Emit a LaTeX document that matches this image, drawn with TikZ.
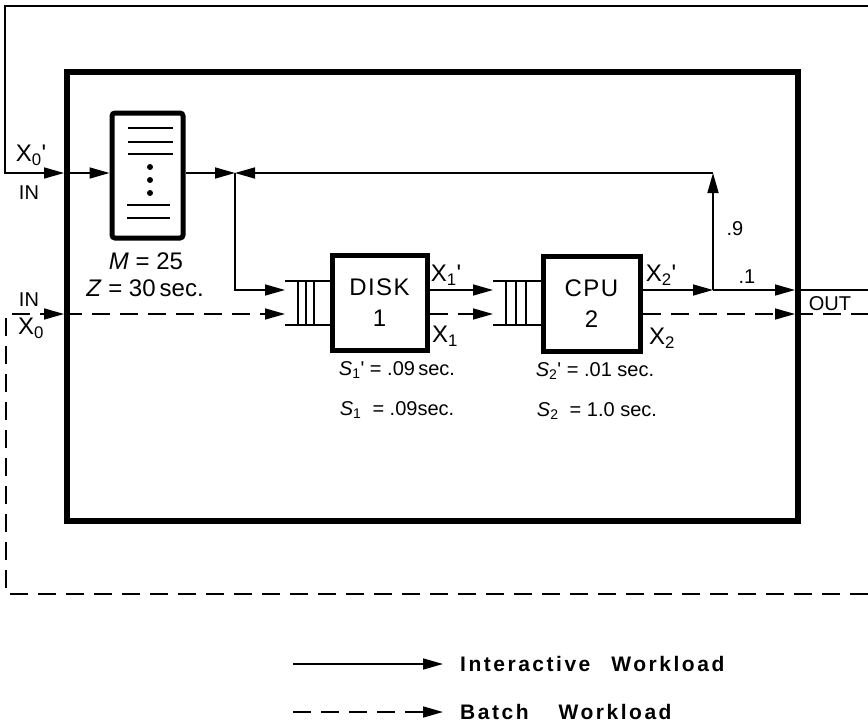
\documentclass[tikz,border=0pt]{standalone}
\usepackage{fontspec}
\setmainfont{Liberation Sans}
\usetikzlibrary{arrows.meta,calc}

\begin{document}
\begin{tikzpicture}[x=1pt,y=-1pt,
  line/.style={line width=1.6pt},
  flow/.style={line, -{Triangle[length=20pt,width=11pt]}},
  batch/.style={line, dash pattern=on 18pt off 10pt},
  batchflow/.style={batch, -{Triangle[length=20pt,width=11pt]}},
  server/.style={draw, line width=5pt, minimum width=95pt, minimum height=95pt, align=center, font=\fontsize{24}{31}\selectfont\addfontfeature{LetterSpace=6}},
  lbl/.style={font=\fontsize{20}{24}\selectfont, inner sep=0pt},
  big/.style={font=\fontsize{24}{26}\selectfont},
  legend/.style={font=\fontsize{21}{24}\selectfont\bfseries\addfontfeature{LetterSpace=12}, inner sep=0pt, anchor=west}]
  \useasboundingbox (0,0) rectangle (868,728);

  % the system box and its stations
  \node[draw, line width=6pt, minimum width=731pt, minimum height=449pt] (sys) at (432.5,296.5) {};
  \node[draw, line width=5pt, rounded corners=3pt, minimum width=71pt, minimum height=125pt] (term) at (147.5,175.5) {};
  \node[server] (disk) at (379.5,303) {DISK\\1};
  \node[server, minimum width=97pt] (cpu) at (591.5,303.5) {CPU\\2};

  % inside the terminals
  \draw[line] (128,128) -- (173,128);
  \draw[line] (128,142) -- (173,142);
  \draw[line] (128,154) -- (173,154);
  \fill (150,167) circle (3pt);
  \fill (150,180) circle (3pt);
  \fill (150,193) circle (3pt);
  \draw[line] (127,205) -- (170,205);
  \draw[line] (127,218) -- (170,218);

  % queues
  \draw[line] (285,281) -- (disk.west |- 0,281);
  \draw[line] (285,325) -- (disk.west |- 0,325);
  \draw[line] (298,281) -- (298,325);
  \draw[line] (306,281) -- (306,325);
  \draw[line] (314,281) -- (314,325);
  \draw[line] (493,281) -- (cpu.west |- 0,281);
  \draw[line] (493,325) -- (cpu.west |- 0,325);
  \draw[line] (506,281) -- (506,325);
  \draw[line] (516,281) -- (516,325);
  \draw[line] (526,281) -- (526,325);

  \coordinate (topR) at (868,6);
  \coordinate (topL) at (5,6);
  \coordinate (inI) at (5,173);
  \coordinate (split) at (235,173);
  \coordinate (up) at (713,173);
  \coordinate (fork) at (713,290);
  \coordinate (dqI) at (285,290);
  \coordinate (dqB) at (285,314);
  \coordinate (cqI) at (493,290);
  \coordinate (cqB) at (493,314);
  \coordinate (outI) at (795,290);
  \coordinate (outB) at (795,314);
  \coordinate (exitI) at (868,290);
  \coordinate (exitB) at (868,314);
  \coordinate (botR) at (868,594);
  \coordinate (botL) at (6,594);
  \coordinate (inB) at (6,314);

  % interactive workload
  \draw[flow] (topR) -- (topL) -- (inI) -- (inI -| sys.west);
  \draw[flow] (inI -| sys.west) -- (term.west |- inI);
  \draw[flow] (term.east |- inI) -- (split);
  \draw[flow] (up) -- (split);
  \draw[flow] (split) |- (dqI);
  \draw[flow] (disk.east |- dqI) -- (cqI);
  \draw[flow] (cpu.east |- dqI) -- (fork);
  \draw[flow] (fork) -- (up);
  \draw[flow] (fork) -- (outI);
  \draw[line] (outI) -- (exitI);

  % batch workload
  \draw[batchflow] (botR) -- (botL) -- (inB) -- (inB -| sys.west);
  \draw[batchflow] (inB -| sys.west) -- (dqB);
  \draw[batchflow] (disk.east |- dqB) -- (cqB);
  \draw[batchflow] (cpu.east |- dqB) -- (outB);
  \draw[batch] (outB) -- (exitB);

  % labels
  \node[lbl, big] (xin) at (31,155) {X\textsubscript{0}\textquotesingle};
  \node[lbl] (in1) at (29,193) {IN};
  \node[lbl] (in2) at (29,300) {IN};
  \node[lbl, big] (xb) at (31,328) {X\textsubscript{0}};
  \node[lbl, big] (mval) at (146,261) {\textit{M} = 25};
  \node[lbl, big] (zval) at (145,288) {\textit{Z} = 30\,sec.};
  \node[lbl, big] (x1i) at (446,275) {X\textsubscript{1}\textquotesingle};
  \node[lbl, big] (x1b) at (445,336) {X\textsubscript{1}};
  \node[lbl, big] (x2i) at (661,275) {X\textsubscript{2}\textquotesingle};
  \node[lbl, big] (x2b) at (662,338) {X\textsubscript{2}};
  \node[lbl] (p9) at (735,229) {.9};
  \node[lbl] (p1) at (747,277) {.1};
  \node[lbl] (outl) at (830,304) {OUT};
  \node[lbl] (s1i) at (397,370) {\textit{S}\textsubscript{1}\textquotesingle{} = .09\,sec.};
  \node[lbl] (s1b) at (397,410) {\textit{S}\textsubscript{1}\ \ = .09sec.};
  \node[lbl] (s2i) at (595,371) {\textit{S}\textsubscript{2}\textquotesingle{} = .01 sec.};
  \node[lbl] (s2b) at (597,411) {\textit{S}\textsubscript{2}\ \ = 1.0 sec.};

  % legend
  \coordinate (legI) at (293,664);
  \coordinate (legB) at (293,712);
  \node[legend] (legIt) at (460,664) {Interactive\quad Workload};
  \node[legend] (legBt) at (460,712) {Batch\hspace{30pt}Workload};
  \draw[flow] (legI) -- ($(legIt.west)+(-17,0)$);
  \draw[batchflow] (legB) -- ($(legBt.west)+(-17,0)$);
\end{tikzpicture}
\end{document}
